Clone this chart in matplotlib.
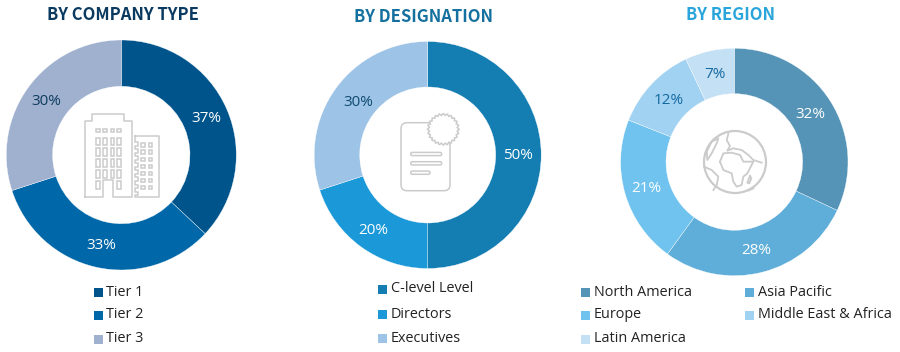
import matplotlib
matplotlib.use('Agg')
import matplotlib.pyplot as plt
from matplotlib.patches import Rectangle, FancyBboxPatch, Circle, Polygon
import numpy as np

W, H = 900, 352

company_labels = ['Tier 1', 'Tier 2', 'Tier 3']
company_values = [37, 33, 30]
company_colors = ['#00548C', '#0068A8', '#9FB1CF']
company_text = ['white', 'white', '#0F3B5F']

desig_labels = ['C-level Level', 'Directors', 'Executives']
desig_values = [50, 20, 30]
desig_colors = ['#147DB2', '#1B98D8', '#9DC3E6']
desig_text = ['white', 'white', '#0F4A70']

region_labels = ['North America', 'Asia Pacific', 'Europe', 'Middle East & Africa', 'Latin America']
region_values = [32, 28, 21, 12, 7]
region_colors = ['#5593B7', '#5FADD9', '#6FC3EE', '#A2D2F2', '#C4E0F5']
region_text = ['white', 'white', 'white', '#14689F', '#14689F']

plt.rcParams['font.family'] = ['Open Sans', 'DejaVu Sans']
fig = plt.figure(figsize=(W / 100, H / 100), dpi=100, facecolor='white')

# pixel overlay for titles, legends and icons, sits above the pies
bg = fig.add_axes([0, 0, 1, 1])
bg.set_xlim(0, W)
bg.set_ylim(H, 0)
bg.axis('off')
bg.set_zorder(10)


def donut(cx, cy, R, r, values, colors, text_colors, label_pos):
    ax = fig.add_axes([(cx - R) / W, 1 - (cy + R) / H, 2 * R / W, 2 * R / H])
    ax.pie(values, colors=colors, startangle=90, counterclock=False, radius=1,
           wedgeprops=dict(width=1 - r / R, edgecolor='white', linewidth=0.25))
    ax.set_xlim(-1, 1)
    ax.set_ylim(-1, 1)
    for v, c, (x, y) in zip(values, text_colors, label_pos):
        bg.text(x, y, f'{v}%', color=c, fontsize=11, ha='center', va='center')


def legend(items, colors, positions):
    for t, c, (x, y) in zip(items, colors, positions):
        bg.add_patch(Rectangle((x, y - 4.5), 9, 9, color=c, lw=0))
        bg.text(x + 13, y, t, color='#222222', fontsize=10.4, va='center', ha='left')


donut(121.3, 155, 115, 68.7, company_values, company_colors, company_text,
      [(206, 118.5), (101, 245.5), (46.5, 101.5)])
donut(427.7, 155, 113.5, 68, desig_values, desig_colors, desig_text,
      [(518.5, 155.5), (373.5, 230), (358, 102.5)])
donut(734.3, 162, 113.7, 68.3, region_values, region_colors, region_text,
      [(810.5, 114), (756.5, 250.5), (646.5, 188), (668.5, 100), (714.5, 74)])

title_font = ['Noto Sans CJK SC', 'DejaVu Sans']
bg.text(123, 15, 'BY COMPANY TYPE', color='#0B3A60', fontsize=12, fontweight='bold',
        family=title_font, ha='center', va='center')
bg.text(423, 17, 'BY DESIGNATION', color='#14709F', fontsize=12, fontweight='bold',
        family=title_font, ha='center', va='center')
bg.text(731, 15, 'BY REGION', color='#2AA5DC', fontsize=12, fontweight='bold',
        family=title_font, ha='center', va='center')

legend(company_labels, company_colors, [(93.5, 292.5), (93.5, 315), (93.5, 339)])
legend(desig_labels, desig_colors, [(378, 289), (378, 314), (378, 338)])
legend(region_labels, region_colors,
       [(581, 292.5), (745, 292.5), (581, 315), (745, 315), (581, 339)])

# center icons
grey = '#CBCBCB'
lw = 1.1


def box(x, y, w, h):
    bg.add_patch(Rectangle((x, y), w, h, fill=False, ec=grey, lw=lw))


def line(xs, ys, width=lw):
    bg.plot(xs, ys, color=grey, lw=width, solid_joinstyle='round')


# buildings
line([84.5, 84.5, 92, 92, 124, 124, 131.5, 131.5, 113, 113, 103, 103, 84.5],
     [196.5, 121, 121, 114, 114, 121, 121, 196.5, 196.5, 180, 180, 196.5, 196.5])
for x in [95.7, 103, 110.5, 117]:
    box(x, 129, 3.8, 3)
    for y in [137.5, 148, 159, 170]:
        box(x, y, 3.8, 7.5)
for x in [95.7, 117]:
    box(x, 180.5, 3.8, 8.5)
# right tower with notched left side
notch_y = np.arange(142, 193, 7.1)
tower_x = [134.5, 159, 159, 134.5]
tower_y = [136, 136, 196.5, 196.5]
for y in notch_y[::-1]:
    tower_x += [134.5, 137.5, 137.5, 134.5]
    tower_y += [y + 3.5, y + 3.5, y, y]
tower_x += [134.5, 134.5]
tower_y += [142, 136]
line(tower_x, tower_y)
for y in np.arange(143.3, 192, 7.1):
    box(141, y, 3.8, 3.2)
    box(148.5, y, 3.8, 3.2)

# document with seal
bg.add_patch(FancyBboxPatch((401, 122.7), 49, 68, boxstyle='round,pad=0,rounding_size=6',
                            fc='white', ec=grey, lw=lw))
for y, x1 in [(154, 441.7), (163.3, 441.7), (172.7, 430)]:
    bg.add_patch(FancyBboxPatch((410.7, y - 1.6), x1 - 410.7, 3.2,
                                boxstyle='round,pad=0,rounding_size=1.6',
                                fill=False, ec=grey, lw=lw))
ang = np.linspace(0, 2 * np.pi, 48, endpoint=False)
rad = np.where(np.arange(48) % 2 == 0, 16, 14)
bg.add_patch(Polygon(np.c_[443.3 + rad * np.cos(ang), 129.3 + rad * np.sin(ang)],
                     closed=True, fc='white', ec=grey, lw=lw))


# globe, outlines given in 3x crop coordinates
def gline(xs, ys, width=1.3):
    line(690 + np.array(xs) / 3, 120 + np.array(ys) / 3, width)


bg.add_patch(Circle((735, 162), 31, fill=False, ec=grey, lw=1.6))
# africa
gline([90, 100, 125, 150, 160, 190, 172, 160, 155, 140, 130, 125, 100, 90],
      [125, 100, 98, 105, 125, 125, 160, 170, 195, 200, 185, 160, 150, 125])
# eurasia coast
gline([115, 110, 120, 112, 130, 155, 175, 190, 215],
      [42, 60, 78, 92, 85, 90, 105, 120, 128])
# north america
gline([50, 65, 85, 80, 65, 52, 50], [95, 65, 55, 70, 100, 120, 95])
# south america
gline([42, 65, 85, 80, 70], [140, 150, 170, 195, 210])
# madagascar
gline([180, 184, 178, 172, 180], [168, 175, 190, 188, 168])
gline([175, 190], [212, 205])

fig.savefig('out.png', dpi=100)
